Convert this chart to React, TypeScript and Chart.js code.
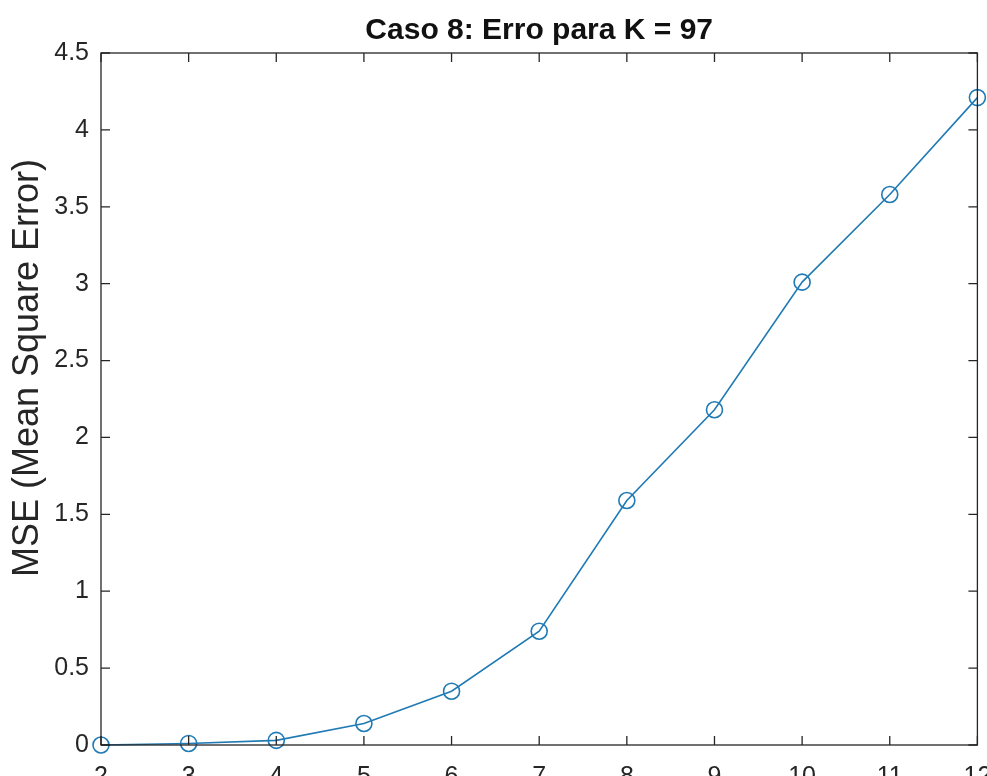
import React, { useEffect, useRef } from "react";
import { Chart, registerables } from "chart.js";

Chart.register(...registerables);

const titleText = "Caso 8: Erro para K = 97";
const yLabel = "MSE (Mean Square Error)";
const kValues = [2, 3, 4, 5, 6, 7, 8, 9, 10, 11, 12];
const mseValues = [0, 0.01, 0.03, 0.14, 0.35, 0.74, 1.59, 2.18, 3.01, 3.58, 4.21];
const xTicks = [2, 3, 4, 5, 6, 7, 8, 9, 10, 11, 12];
const yTicks = [0, 0.5, 1, 1.5, 2, 2.5, 3, 3.5, 4, 4.5];

const W = 987;
const H = 800;
const AX = "#262626";
const LINE = "rgb(32,122,180)";
const FONT = "'Liberation Sans', Arial, Helvetica, sans-serif";

const boxPlugin = {
  id: "matlabBox",
  afterDraw(chart: any) {
    const { ctx, chartArea } = chart;
    const { left, right, top, bottom } = chartArea;
    const xs = chart.scales.x;
    const ys = chart.scales.y;
    ctx.save();
    ctx.strokeStyle = AX;
    ctx.lineWidth = 1.3;
    ctx.strokeRect(left, top, right - left, bottom - top);
    const tl = 9;
    ctx.beginPath();
    xTicks.forEach((v) => {
      const px = xs.getPixelForValue(v);
      ctx.moveTo(px, bottom);
      ctx.lineTo(px, bottom - tl);
      ctx.moveTo(px, top);
      ctx.lineTo(px, top + tl);
    });
    yTicks.forEach((v) => {
      const py = ys.getPixelForValue(v);
      ctx.moveTo(left, py);
      ctx.lineTo(left + tl, py);
      ctx.moveTo(right, py);
      ctx.lineTo(right - tl, py);
    });
    ctx.stroke();
    // title
    ctx.fillStyle = "#111";
    ctx.font = `bold 30px ${FONT}`;
    ctx.textAlign = "center";
    ctx.textBaseline = "alphabetic";
    ctx.fillText(titleText, (left + right) / 2, 39);
    // y axis label
    ctx.save();
    ctx.translate(28, 368);
    ctx.rotate(-Math.PI / 2);
    ctx.fillStyle = AX;
    ctx.font = `36px ${FONT}`;
    ctx.textAlign = "center";
    ctx.textBaseline = "middle";
    ctx.fillText(yLabel, 0, 0);
    ctx.restore();
    ctx.restore();
  },
};

export default function App() {
  const ref = useRef<HTMLCanvasElement | null>(null);
  useEffect(() => {
    if (!ref.current) return;
    const chart = new Chart(ref.current, {
      type: "line",
      data: {
        datasets: [
          {
            data: kValues.map((k, i) => ({ x: k, y: mseValues[i] })),
            borderColor: LINE,
            borderWidth: 1.6,
            pointStyle: "circle",
            pointRadius: 8,
            pointBorderWidth: 1.6,
            pointBackgroundColor: "rgba(0,0,0,0)",
            pointBorderColor: LINE,
            tension: 0,
            clip: false as any,
          },
        ],
      },
      options: {
        animation: false,
        responsive: false,
        maintainAspectRatio: false,
        layout: { padding: { top: 53, right: 6, left: 0, bottom: 0 } },
        plugins: {
          legend: { display: false },
          tooltip: { enabled: false },
          title: { display: false },
        },
        scales: {
          x: {
            type: "linear",
            min: 2,
            max: 12,
            afterBuildTicks: (s: any) => {
              s.ticks = xTicks.map((v) => ({ value: v }));
            },
            afterFit: (s: any) => {
              s.height = 55;
              s.paddingLeft = 0;
              s.paddingRight = 0;
            },
            grid: { display: false, drawTicks: false },
            border: { display: false },
            ticks: {
              color: AX,
              font: { family: FONT, size: 25 },
              padding: 17,
              maxRotation: 0,
            },
          },
          y: {
            type: "linear",
            min: 0,
            max: 4.5,
            afterBuildTicks: (s: any) => {
              s.ticks = yTicks.map((v) => ({ value: v }));
            },
            afterFit: (s: any) => {
              s.width = 101;
              s.paddingTop = 0;
              s.paddingBottom = 0;
            },
            grid: { display: false, drawTicks: false },
            border: { display: false },
            ticks: {
              color: AX,
              font: { family: FONT, size: 25 },
              padding: 12,
              callback: (v: any) => String(v),
            },
          },
        },
      },
      plugins: [boxPlugin],
    });
    return () => chart.destroy();
  }, []);
  return (
    <div style={{ position: "absolute", left: 0, top: 0, width: W, height: 776, overflow: "hidden", background: "#fff" }}>
      <canvas ref={ref} width={W} height={H} style={{ display: "block", width: W, height: H }} />
    </div>
  );
}
